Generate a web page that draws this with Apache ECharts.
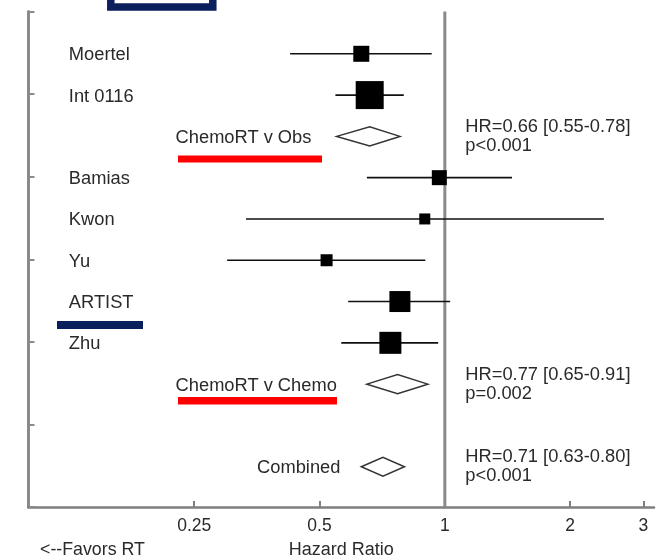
<!DOCTYPE html>
<html><head><meta charset="utf-8">
<script src="https://cdn.jsdelivr.net/npm/echarts@6/dist/echarts.min.js"></script>
<style>html,body{margin:0;padding:0;background:#fff}#c{width:664px;height:557px}</style>
</head><body><div id="c"></div>
<script>
// ---- data ----
const studies = ['Moertel', 'Int 0116', 'Bamias', 'Kwon', 'Yu', 'ARTIST', 'Zhu'];
const studyRows = [1, 2, 4, 5, 6, 7, 8];
const studyHR = [0.63, 0.66, 0.97, 0.895, 0.52, 0.78, 0.74];
const studyLow = [0.425, 0.546, 0.65, 0.333, 0.30, 0.586, 0.564];
const studyHigh = [0.93, 0.797, 1.45, 2.41, 0.898, 1.03, 0.964];
const studyWeight = [2.56, 7.84, 2.25, 1.21, 1.44, 4.41, 4.84];

const pooledNames = ['ChemoRT v Obs', 'ChemoRT v Chemo', 'Combined'];
const pooledRows = [3, 9, 11];
const pooledHR = [0.66, 0.77, 0.71];
const pooledLow = [0.55, 0.65, 0.63];
const pooledHigh = [0.78, 0.91, 0.80];
const pooledP = ['p<0.001', 'p=0.002', 'p<0.001'];

const xTicks = [0.25, 0.5, 1, 2, 3];
const refValue = 1;

// ---- layout (not data) ----
const FONT = '"Liberation Sans", Arial, sans-serif';
const TXT = '#2a2a2a';
const studyLabelX = 0.125;
const pooledLabelX = [0.2256, 0.2256, 0.354];
const statLabelX = 1.12;

const chart = echarts.init(document.getElementById('c'), null, {renderer: 'canvas'});

const studyData = studies.map((n, i) => [studyLow[i], studyHigh[i], studyHR[i], studyRows[i], studyWeight[i]]);
const pooledData = pooledNames.map((n, i) => [pooledLow[i], pooledHigh[i], pooledHR[i], pooledRows[i]]);
const textData = [];
studies.forEach((n, i) => textData.push([studyLabelX, studyRows[i], n]));
pooledNames.forEach((n, i) => textData.push([pooledLabelX[i], pooledRows[i], n]));
const statData = pooledNames.map((n, i) => [statLabelX, pooledRows[i],
  'HR=' + pooledHR[i].toFixed(2) + ' [' + pooledLow[i].toFixed(2) + '-' + pooledHigh[i].toFixed(2) + ']\n' + pooledP[i]]);

const option = {
  backgroundColor: '#fff',
  animation: false,
  grid: {left: 28.5, right: 10, top: 11.5, bottom: 50, containLabel: false, outerBoundsMode: 'none'},
  xAxis: {
    type: 'log', logBase: 2, min: 0.1, max: 3.18,
    name: 'Hazard Ratio', nameLocation: 'middle', nameGap: 34,
    nameTextStyle: {color: TXT, fontSize: 18, fontFamily: FONT},
    axisLine: {show: true, onZero: false, lineStyle: {color: '#7f7f7f', width: 2.5}},
    axisTick: {show: true, inside: true, length: 6, customValues: xTicks, lineStyle: {color: '#7f7f7f', width: 2}},
    axisLabel: {show: true, customValues: xTicks, margin: 10, color: TXT, fontSize: 17.5, fontFamily: FONT,
      formatter: v => String(+(+v).toFixed(2))},
    splitLine: {show: false}, minorTick: {show: false}
  },
  yAxis: {
    type: 'value', inverse: true, min: 0, max: 12, interval: 2,
    axisLine: {show: true, onZero: false, lineStyle: {color: '#8a8a8a', width: 3}},
    axisTick: {show: true, inside: true, length: 6, lineStyle: {color: '#8a8a8a', width: 2}},
    axisLabel: {show: false}, splitLine: {show: false}
  },
  series: [
    { // reference line at HR = 1
      type: 'custom', data: [[refValue]], encode: {x: 0},
      renderItem: (p, api) => {
        const a = api.coord([api.value(0), 0]);
        const b = api.coord([api.value(0), 12]);
        return {type: 'line', shape: {x1: a[0], y1: a[1], x2: b[0], y2: b[1]},
          style: {stroke: '#8a8a8a', lineWidth: 3}};
      }
    },
    { // individual studies
      type: 'custom', data: studyData, encode: {x: [0, 1, 2], y: 3},
      renderItem: (p, api) => {
        const y = api.value(3);
        const a = api.coord([api.value(0), y]);
        const b = api.coord([api.value(1), y]);
        const c = api.coord([api.value(2), y]);
        const s = Math.sqrt(api.value(4)) * 10;
        return {type: 'group', children: [
          {type: 'line', shape: {x1: a[0], y1: a[1] + 1, x2: b[0], y2: b[1] + 1}, style: {stroke: '#111', lineWidth: 1.6}},
          {type: 'rect', shape: {x: c[0] - s / 2, y: c[1] + 1 - s / 2, width: s, height: s}, style: {fill: '#000'}}
        ]};
      }
    },
    { // pooled diamonds
      type: 'custom', data: pooledData, encode: {x: [0, 1, 2], y: 3},
      renderItem: (p, api) => {
        const y = api.value(3);
        const l = api.coord([api.value(0), y]);
        const r = api.coord([api.value(1), y]);
        const m = api.coord([api.value(2), y]);
        const h = 9.5, d = 1;
        return {type: 'polygon', shape: {points: [[l[0], l[1] + d], [m[0], m[1] + d - h], [r[0], r[1] + d], [m[0], m[1] + d + h]]},
          style: {fill: '#fff', stroke: '#333', lineWidth: 1.5}};
      }
    },
    { // row labels
      type: 'custom', data: textData, encode: {x: 0, y: 1},
      renderItem: (p, api) => {
        const c = api.coord([api.value(0), api.value(1)]);
        return {type: 'text', x: c[0], y: c[1] + 2.5,
          style: {text: textData[p.dataIndex][2], fill: TXT, font: '18.3px ' + FONT, textAlign: 'left', textVerticalAlign: 'middle'}};
      }
    },
    { // stats labels
      type: 'custom', data: statData, encode: {x: 0, y: 1},
      renderItem: (p, api) => {
        const c = api.coord([api.value(0), api.value(1)]);
        return {type: 'text', x: c[0], y: c[1] + 1,
          style: {text: statData[p.dataIndex][2], fill: TXT, font: '18.3px ' + FONT, lineHeight: 19,
            textAlign: 'left', textVerticalAlign: 'middle'}};
      }
    }
  ],
  graphic: [
    {type: 'rect', shape: {x: 110.8, y: -20, width: 102, height: 27}, style: {fill: 'none', stroke: '#0b1f5c', lineWidth: 7.5}},
    {type: 'rect', shape: {x: 178, y: 155.5, width: 144, height: 7}, style: {fill: '#ff0000'}},
    {type: 'rect', shape: {x: 178, y: 397, width: 159, height: 7.5}, style: {fill: '#ff0000'}},
    {type: 'rect', shape: {x: 57, y: 321, width: 86, height: 8}, style: {fill: '#0b1f5c'}},
    {type: 'text', x: 40, y: 550, style: {text: '<--Favors RT', fill: TXT, font: '17.8px ' + FONT, textAlign: 'left', textVerticalAlign: 'middle'}}
  ]
};
chart.setOption(option);
</script>
</body></html>
